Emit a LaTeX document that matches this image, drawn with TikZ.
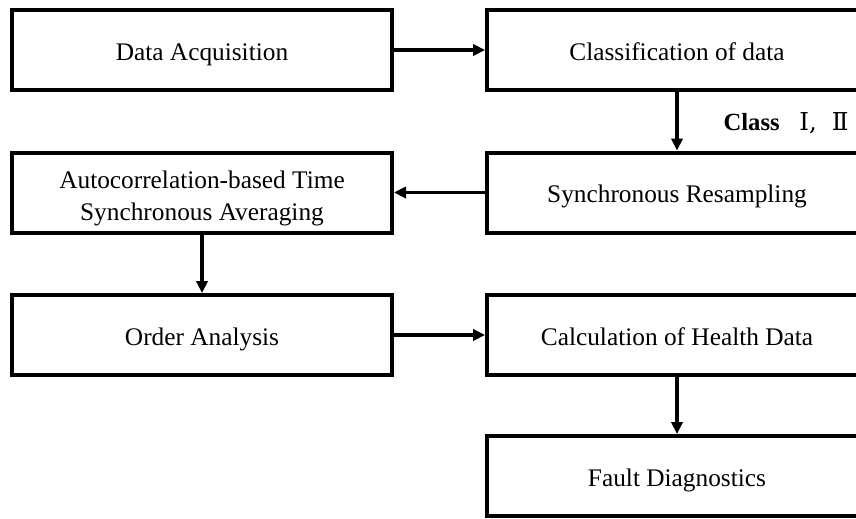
\documentclass[tikz,border=0pt]{standalone}
\usepackage{fontspec}
\setmainfont{Liberation Serif}
\newfontfamily\numfont{DejaVu Serif}
\usetikzlibrary{arrows.meta}

\tikzset{every picture/.style={line width=0.75pt}}
\tikzset{
  stagebox/.style={draw, line width=3pt, minimum width=285pt, minimum height=60pt, inner sep=0.75pt, align=center, text height=16pt, text depth=0.5pt, font=\fontsize{19}{24}\selectfont},
  flow/.style={line width=2.5pt, -{Triangle[length=9pt,width=8.5pt]}}
}

\begin{document}
\begin{tikzpicture}[x=0.75pt,y=0.75pt,yscale=-1,xscale=1]
\useasboundingbox (0,0) rectangle (856,518);
\clip (0,0) rectangle (856,518);

% Left column
\node [stagebox] (acq) at (202,50) {Data Acquisition};
\node [stagebox, text height=42.3pt] (tsa) at (202,192.5) {Autocorrelation-based Time\\Synchronous Averaging};
\node [stagebox] (ord) at (202,335) {Order Analysis};
% Right column
\node [stagebox] (cls) at (677,50) {Classification of data};
\node [stagebox] (res) at (677,192.5) {Synchronous Resampling};
\node [stagebox] (hlt) at (677,335) {Calculation of Health Data};
\node [stagebox] (flt) at (677,476) {Fault Diagnostics};

% Text Node
\node [anchor=west, inner sep=0.75pt, font=\fontsize{18.5}{20}\selectfont\bfseries] (lbl) at (722,123) {Class\hspace{0.8em}{\numfont\mdseries Ⅰ,\hspace{0.6em}Ⅱ}};

% Connectors
\draw [flow] (acq) -- (cls);
\draw [flow] (cls) -- (res);
\draw [flow] (res) -- (tsa);
\draw [flow] (tsa) -- (ord);
\draw [flow] (ord) -- (hlt);
\draw [flow] (hlt) -- (flt);

\end{tikzpicture}
\end{document}
